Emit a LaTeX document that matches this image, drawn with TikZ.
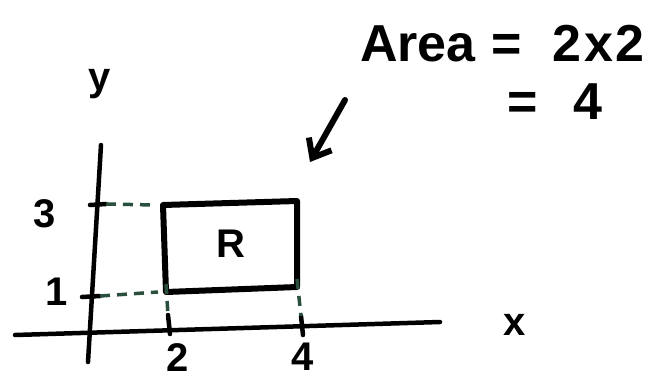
\documentclass[tikz,border=0pt]{standalone}
\usepackage{fontspec}
\setmainfont{Liberation Sans}
\usetikzlibrary{arrows.meta}
\definecolor{dashgreen}{RGB}{40,80,60}
\tikzset{
  ink/.style={line width=6pt, line cap=round, line join=round, black},
  axisline/.style={line width=4.5pt, line cap=round},
  guide/.style={line width=3.5pt, dashgreen, dash pattern=on 10pt off 7pt},
  lbl/.style={font=\bfseries\fontsize{40}{40}\selectfont, inner sep=0pt},
  big/.style={font=\bfseries\fontsize{52}{52}\selectfont, inner sep=0pt}
}
\begin{document}
\begin{tikzpicture}[x=1pt,y=-1pt]
\useasboundingbox (0,0) rectangle (667,381);
% axes
\coordinate (ytop) at (101,145);
\coordinate (ybot) at (88,362);
\coordinate (xl) at (15,335);
\coordinate (xr) at (440,322);
\draw[axisline] (ytop) -- (ybot);
\draw[axisline] (xl) -- (xr);
% rectangle
\coordinate (r1) at (163,205);
\coordinate (r2) at (297,201);
\coordinate (r3) at (297,287);
\coordinate (r4) at (166,292);
\draw[ink] (r1) -- (r2) -- (r3) -- (r4) -- cycle;
\node[lbl] (R) at (231,244) {R};
% y ticks
\coordinate (t3a) at (90,205); \coordinate (t3b) at (106,204);
\coordinate (t1a) at (82,297); \coordinate (t1b) at (100,296);
\draw[axisline] (t3a) -- (t3b);
\draw[axisline] (t1a) -- (t1b);
% x ticks
\coordinate (t2a) at (168,315); \coordinate (t2b) at (170,334);
\coordinate (t4a) at (301,316); \coordinate (t4b) at (303,335);
\draw[axisline] (t2a) -- (t2b);
\draw[axisline] (t4a) -- (t4b);
% guides
\draw[guide] (t3b) -- ([xshift=-8pt]r1);
\draw[guide] (t1b) -- ([xshift=-8pt]r4);
\draw[guide] ([yshift=8pt]r4) -- (t2a);
\draw[guide] ([yshift=8pt]r3) -- (t4a);
% labels
\node[lbl] (l3) at (45,214) {3};
\node[lbl] (l1) at (57,292) {1};
\node[lbl] (l2) at (178,358) {2};
\node[lbl] (l4) at (303,357) {4};
\node[lbl] (ly) at (100,84) {y};
\node[lbl] (lx) at (515,325) {x};
% area text
\node[big, anchor=west] (area) at (360,44) {Area\hspace{16pt}=\hspace{30pt}2\hspace{3pt}x\hspace{3pt}2};
\node[big, anchor=west] (four) at (507,102) {=\hspace{36pt}4};
% arrow
\coordinate (aS) at (345,100);
\coordinate (aE) at (310,162);
\draw[ink, -{Straight Barb[length=16pt,width=26pt]}] (aS) -- (aE);
\end{tikzpicture}
\end{document}
